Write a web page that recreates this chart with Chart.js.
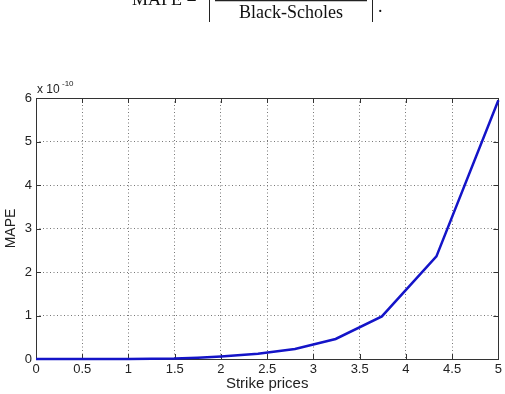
<!DOCTYPE html>
<html>
<head>
<meta charset="utf-8">
<script src="https://cdn.jsdelivr.net/npm/chart.js@4.4.1/dist/chart.umd.min.js"></script>
<style>
  html, body { margin: 0; padding: 0; background: #fff; }
  #contenitore { width: 505px; height: 394px; }
</style>
</head>
<body>
<div id="contenitore"><canvas id="grafico" width="505" height="394"></canvas></div>
<script>
// dati (MAPE in unita' reali, asse in x 10^-10)
const strikePrices = [0, 0.5, 1, 1.5, 1.75, 2, 2.4, 2.8, 3.24, 3.74, 4.33, 5];
const mape = [0, 0, 0, 0.01e-10, 0.03e-10, 0.06e-10, 0.12e-10, 0.23e-10, 0.46e-10, 0.98e-10, 2.36e-10, 5.95e-10];
const xTicks = [0, 0.5, 1, 1.5, 2, 2.5, 3, 3.5, 4, 4.5, 5];
const yTicks = [0, 1, 2, 3, 4, 5, 6];
const scala = 1e-10;

const coloreTesto = '#222';

// formula in alto, moltiplicatore, cornice e tacche interne stile MATLAB
const decorazioni = {
  id: 'decorazioni',
  beforeDatasetsDraw(chart) {
    const { ctx, chartArea: a, scales } = chart;
    ctx.save();
    ctx.strokeStyle = '#333';
    ctx.lineWidth = 1;
    ctx.beginPath();
    xTicks.forEach(v => {
      const px = Math.round(scales.x.getPixelForValue(v)) + 0.5;
      ctx.moveTo(px, a.bottom); ctx.lineTo(px, a.bottom - 5);
      ctx.moveTo(px, a.top); ctx.lineTo(px, a.top + 5);
    });
    yTicks.forEach(v => {
      const py = Math.round(scales.y.getPixelForValue(v * scala)) + 0.5;
      ctx.moveTo(a.left, py); ctx.lineTo(a.left + 5, py);
      ctx.moveTo(a.right, py); ctx.lineTo(a.right - 5, py);
    });
    ctx.stroke();
    ctx.strokeRect(Math.round(a.left) + 0.5, Math.round(a.top) + 0.5,
      Math.round(a.right - a.left), Math.round(a.bottom - a.top));
    ctx.restore();
  },
  afterDraw(chart) {
    const { ctx, chartArea: a } = chart;
    ctx.save();
    ctx.fillStyle = coloreTesto;
    // moltiplicatore x 10^-10
    ctx.font = '12px "Liberation Sans", Arial, sans-serif';
    ctx.textAlign = 'left';
    ctx.textBaseline = 'alphabetic';
    ctx.fillText('x 10', a.left + 1, 93);
    ctx.font = '8px "Liberation Sans", Arial, sans-serif';
    ctx.fillText('-10', a.left + 26, 86);

    // formula tagliata in alto
    ctx.fillStyle = '#111';
    ctx.font = '18px "Liberation Serif", "DejaVu Serif", serif';
    ctx.fillText('MAPE =', 132, 5);
    ctx.textAlign = 'center';
    ctx.fillText('Black-Scholes', 291, 18);
    ctx.textAlign = 'left';
    ctx.fillText('.', 378, 12);
    ctx.strokeStyle = '#222';
    ctx.lineWidth = 1;
    ctx.beginPath();
    ctx.moveTo(209.5, 0); ctx.lineTo(209.5, 22);
    ctx.moveTo(372.5, 0); ctx.lineTo(372.5, 22);
    ctx.stroke();
    ctx.lineWidth = 1.5;
    ctx.beginPath();
    ctx.moveTo(215, 0.5); ctx.lineTo(367, 0.5);
    ctx.stroke();
    ctx.restore();
  }
};

const ctx = document.getElementById('grafico').getContext('2d');
const myChart = new Chart(ctx, {
  type: 'line',
  data: {
    datasets: [{
      label: 'MAPE',
      data: strikePrices.map((x, i) => ({ x: x, y: mape[i] })),
      borderColor: '#1414c8',
      borderWidth: 2.5,
      pointRadius: 0,
      tension: 0,
      fill: false,
      clip: 4
    }]
  },
  options: {
    responsive: false,
    animation: false,
    layout: { padding: { top: 98, right: 6, left: 0, bottom: 0 } },
    plugins: { legend: { display: false }, tooltip: { enabled: false } },
    scales: {
      x: {
        type: 'linear',
        min: 0,
        max: 5,
        afterBuildTicks: s => { s.ticks = xTicks.map(v => ({ value: v })); },
        afterFit: s => { s.height = 35; },
        grid: { color: '#777', lineWidth: 1, drawTicks: false },
        border: { display: false, dash: [1, 2.5] },
        ticks: {
          padding: 3,
          color: coloreTesto,
          maxRotation: 0,
          font: { family: '"Liberation Sans", Arial, sans-serif', size: 13 },
          callback: v => String(v)
        },
        title: {
          display: true,
          text: 'Strike prices',
          color: coloreTesto,
          font: { family: '"Liberation Sans", Arial, sans-serif', size: 15 },
          padding: { top: 0, bottom: 1 }
        }
      },
      y: {
        type: 'linear',
        min: 0,
        max: 6 * scala,
        afterBuildTicks: s => { s.ticks = yTicks.map(v => ({ value: v * scala })); },
        afterFit: s => { s.width = 36; },
        grid: { color: '#777', lineWidth: 1, drawTicks: false },
        border: { display: false, dash: [1, 2.5] },
        ticks: {
          padding: 4,
          color: coloreTesto,
          font: { family: '"Liberation Sans", Arial, sans-serif', size: 13 },
          callback: v => String(Math.round(v / scala))
        },
        title: {
          display: true,
          text: 'MAPE',
          color: coloreTesto,
          font: { family: '"Liberation Sans", Arial, sans-serif', size: 14 },
          padding: { top: 3, bottom: 0 }
        }
      }
    }
  },
  plugins: [decorazioni]
});
</script>
</body>
</html>
